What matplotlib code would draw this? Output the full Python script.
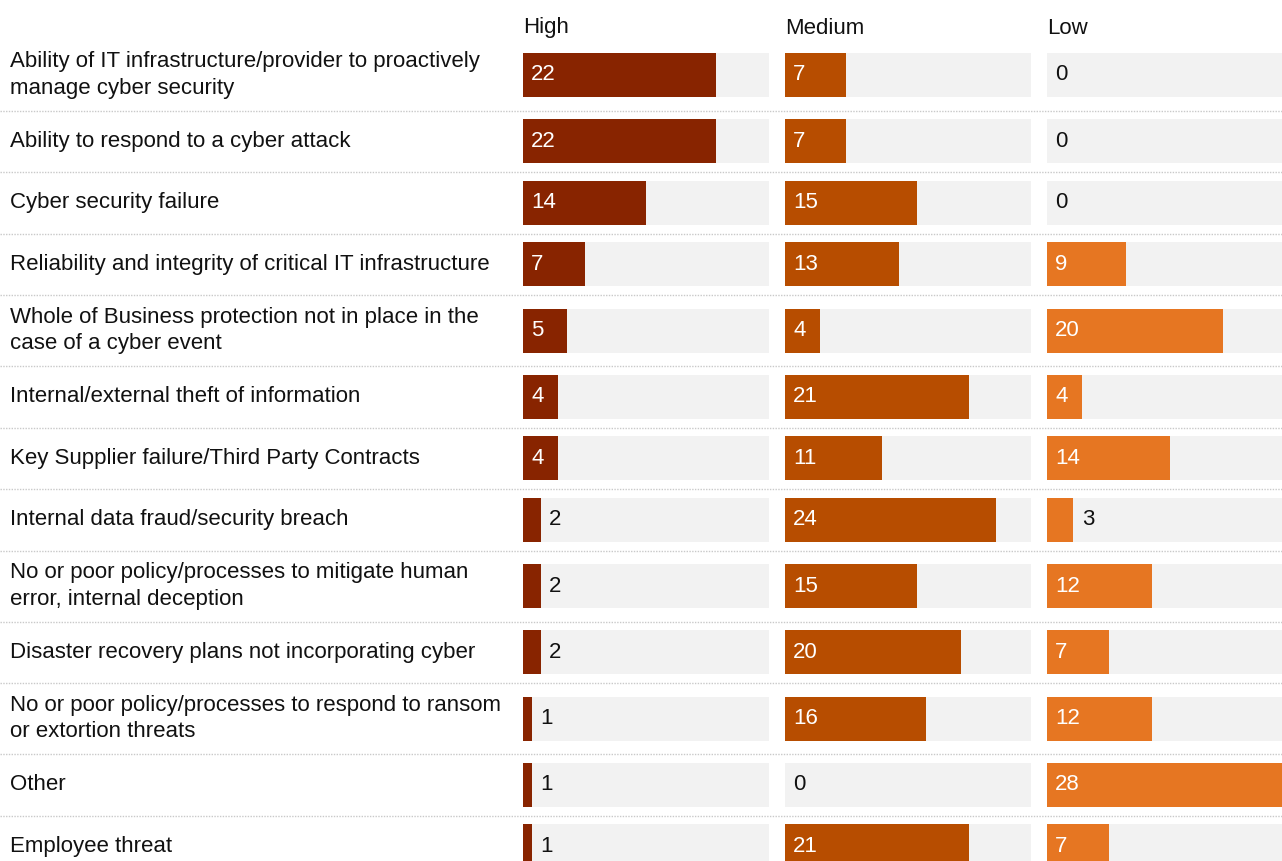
import numpy as np
import matplotlib
matplotlib.use('Agg')
from matplotlib import pyplot as plt

plt.rcParams['font.family'] = ['Liberation Sans', 'DejaVu Sans']

risks = [
    'Ability of IT infrastructure/provider to proactively\nmanage cyber security',
    'Ability to respond to a cyber attack',
    'Cyber security failure',
    'Reliability and integrity of critical IT infrastructure',
    'Whole of Business protection not in place in the\ncase of a cyber event',
    'Internal/external theft of information',
    'Key Supplier failure/Third Party Contracts',
    'Internal data fraud/security breach',
    'No or poor policy/processes to mitigate human\nerror, internal deception',
    'Disaster recovery plans not incorporating cyber',
    'No or poor policy/processes to respond to ransom\nor extortion threats',
    'Other',
    'Employee threat',
]
high = [22, 22, 14, 7, 5, 4, 4, 2, 2, 2, 1, 1, 1]
medium = [7, 7, 15, 13, 4, 21, 11, 24, 15, 20, 16, 0, 21]
low = [0, 0, 0, 9, 20, 4, 14, 3, 12, 7, 12, 28, 7]
levels = ['High', 'Medium', 'Low']
colors = ['#882400', '#b74d00', '#e67622']
scale_max = 28

W, H = 1282, 861
fs = 16
fig = plt.figure(figsize=(W / 100, H / 100), dpi=100)

# row geometry in pixels (taller rows for two-line labels)
heights = [71 if '\n' in r else 61.5 for r in risks]
tops = 39.5 + np.concatenate([[0], np.cumsum(heights)[:-1]])
centers = tops + np.array(heights) / 2
bounds = tops + np.array(heights)

bg = fig.add_axes([0, 0, 1, 1])
bg.set_xlim(0, W)
bg.set_ylim(H, 0)
bg.axis('off')

for r, y in zip(risks, centers):
    bg.text(10, y, r, fontsize=fs, color='#111111', va='center', ha='left',
            linespacing=1.32)
for b in bounds[:-1]:
    bg.axhline(b, color='#c9c9c9', lw=1, ls=(0, (1, 1)))

panel_left = [523, 785, 1047]
panel_w = 246
for left, name, vals, col in zip(panel_left, levels, [high, medium, low], colors):
    ax = fig.add_axes([left / W, 0, panel_w / W, 1])
    ax.set_xlim(0, scale_max)
    ax.set_ylim(H, 0)
    ax.axis('off')
    ax.barh(centers, [scale_max] * len(vals), height=44, color='#f2f2f2')
    ax.barh(centers, vals, height=44, color=col)
    ax.text(0, 28, name, fontsize=fs, color='#111111', va='center', ha='left')
    for v, y in zip(vals, centers):
        if v >= 4:
            ax.annotate(str(v), (0, y), xytext=(6, 0), textcoords='offset points',
                        color='white', fontsize=fs, va='center', ha='left')
        else:
            ax.annotate(str(v), (v, y), xytext=(6, 0), textcoords='offset points',
                        color='#111111', fontsize=fs, va='center', ha='left')

fig.savefig('out.png', dpi=100)
